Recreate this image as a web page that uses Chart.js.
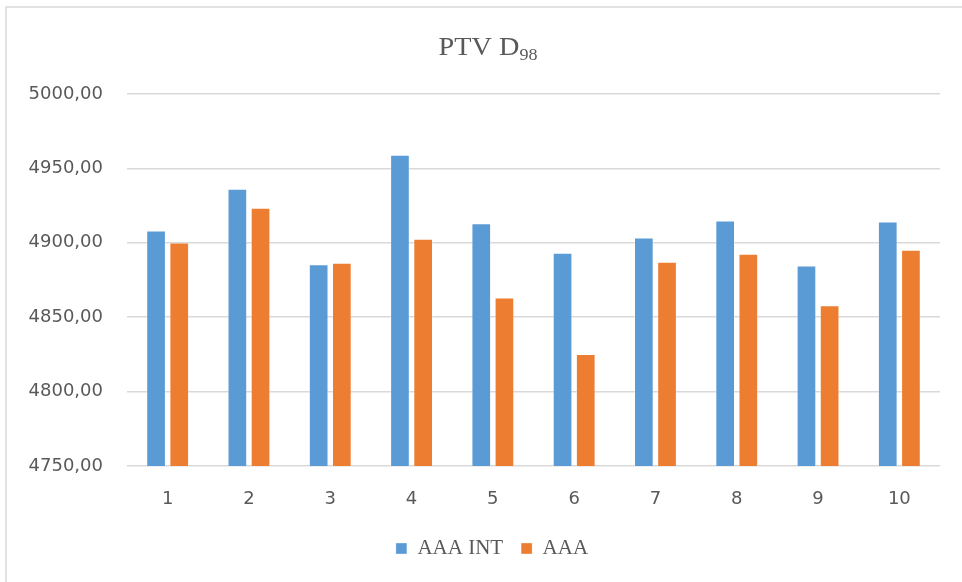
<!DOCTYPE html>
<html>
<head>
<meta charset="utf-8">
<script src="https://cdn.jsdelivr.net/npm/chart.js@4/dist/chart.umd.min.js"></script>
<style>
  html, body { margin: 0; padding: 0; background: #ffffff; }
  #wrap { position: relative; width: 962px; height: 582px; }
</style>
</head>
<body>
<div id="wrap"><canvas id="c" width="962" height="582"></canvas></div>
<script>
// Patient plans 1–10, PTV D98 dose for the two calculation algorithms
const categories = ['1', '2', '3', '4', '5', '6', '7', '8', '9', '10'];
const aaaIntValues = [4908.3, 4936.3, 4885.6, 4959.2, 4913.2, 4893.3, 4903.6, 4915.0, 4884.7, 4914.3];
const aaaValues = [4900.2, 4923.5, 4886.6, 4902.7, 4863.2, 4825.3, 4887.2, 4892.6, 4858.0, 4895.3];
const seriesNames = ['AAA INT', 'AAA'];
const titleMain = 'PTV D';
const titleSub = '98';
const yMin = 4750, yMax = 5000, yStep = 50;

const textGrey = '#595959';
const gridGrey = '#D9D9D9';

// Title with subscript, the outer frame, and a small nudge of the legend
const decorPlugin = {
  id: 'decor',
  afterLayout(chart) {
    // centre the legend under the whole frame rather than the padded box
    if (chart.legend) {
      chart.legend.left += 22;
      chart.legend.right += 22;
    }
  },
  beforeDraw(chart) {
    const ctx = chart.ctx;
    ctx.save();
    ctx.strokeStyle = '#D9D9D9';
    ctx.lineWidth = 1.5;
    ctx.beginPath();
    ctx.moveTo(6, 600);
    ctx.lineTo(6, 7);
    ctx.lineTo(970, 7);
    ctx.stroke();
    ctx.restore();
  },
  afterDraw(chart) {
    const ctx = chart.ctx;
    ctx.save();
    ctx.fillStyle = textGrey;
    ctx.textBaseline = 'alphabetic';
    const mainFont = '25px "Liberation Serif", "Times New Roman", serif';
    const subFont = '16px "Liberation Serif", "Times New Roman", serif';
    const sx = 1.13;
    ctx.font = mainFont;
    const w1 = ctx.measureText(titleMain).width * sx;
    ctx.font = subFont;
    const w2 = ctx.measureText(titleSub).width * sx;
    const cx = 488;
    const x0 = cx - (w1 + w2) / 2;
    ctx.translate(x0, 0);
    ctx.scale(sx, 1);
    ctx.font = mainFont;
    ctx.fillText(titleMain, 0, 55);
    ctx.font = subFont;
    ctx.fillText(titleSub, w1 / sx, 60);
    ctx.restore();
  }
};

new Chart(document.getElementById('c'), {
  type: 'bar',
  data: {
    labels: categories,
    datasets: [
      {
        label: seriesNames[0],
        data: aaaIntValues,
        backgroundColor: '#5B9BD5',
        borderColor: 'rgba(255,255,255,0.3)',
        borderWidth: 1,
        categoryPercentage: 0.57,
        barPercentage: 0.85
      },
      {
        label: seriesNames[1],
        data: aaaValues,
        backgroundColor: '#ED7D31',
        borderColor: 'rgba(255,255,255,0.3)',
        borderWidth: 1,
        categoryPercentage: 0.57,
        barPercentage: 0.85
      }
    ]
  },
  options: {
    responsive: false,
    animation: false,
    layout: { padding: { left: 0, right: 22, top: 94, bottom: 13 } },
    plugins: {
      tooltip: { enabled: false },
      title: { display: false },
      legend: {
        display: true,
        position: 'bottom',
        labels: {
          color: textGrey,
          boxWidth: 11,
          boxHeight: 11,
          padding: 18,
          font: { family: '"Liberation Serif", "Times New Roman", serif', size: 21 }
        }
      }
    },
    scales: {
      x: {
        grid: { display: false },
        border: { display: false },
        ticks: {
          color: textGrey,
          padding: 15,
          font: { family: '"DejaVu Sans", sans-serif', size: 18 }
        },
        afterFit(scale) { scale.height = 54; }
      },
      y: {
        min: yMin,
        max: yMax,
        grid: { color: gridGrey, lineWidth: 1.5, drawTicks: false },
        border: { display: false },
        ticks: {
          stepSize: yStep,
          color: textGrey,
          padding: 24,
          font: { family: '"DejaVu Sans", sans-serif', size: 18 },
          callback: (v) => Number(v).toFixed(2).replace('.', ',')
        },
        afterFit(scale) { scale.width = 127; }
      }
    }
  },
  plugins: [decorPlugin]
});
</script>
</body>
</html>
